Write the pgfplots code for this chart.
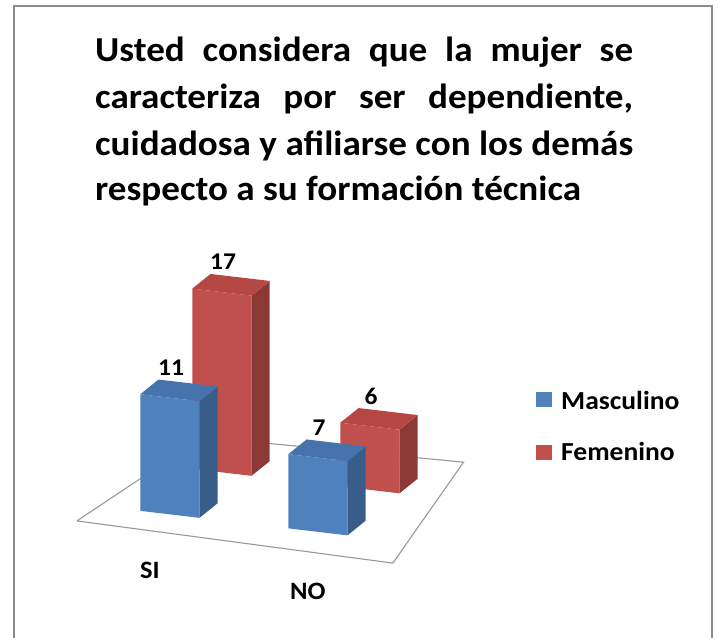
\documentclass[border=0pt]{standalone}
\usepackage{pgfplots}
\pgfplotsset{compat=1.18}
\usepackage{fontspec}
\setmainfont{Carlito}[FakeStretch=1.06]
\definecolor{blueF}{HTML}{4F81BD}
\definecolor{blueS}{HTML}{385D8A}
\definecolor{blueT}{HTML}{4773AD}
\definecolor{redF}{HTML}{C0504D}
\definecolor{redS}{HTML}{8C3836}
\definecolor{redT}{HTML}{B54845}
\definecolor{frameG}{HTML}{8C8C8C}
\begin{document}
\begin{tikzpicture}
\useasboundingbox (0pt,0pt) rectangle (719pt,637pt);
% outer frame
\draw[line width=1.4pt, frameG] (14pt,-3pt) -- (14pt,631pt) -- (712pt,631pt) -- (712pt,-3pt);
% title
\begin{scope}[every node/.style={anchor=base west, inner sep=0pt, font=\bfseries\fontsize{35}{40}\selectfont}]
\node at (95pt,575pt) {\makebox[538pt][s]{Usted considera que la mujer se}};
\node at (95pt,528pt) {\makebox[538pt][s]{caracteriza por ser dependiente,}};
\node at (95pt,481pt) {\makebox[538pt][s]{cuidadosa y afiliarse con los demás}};
\node at (95pt,436pt) {respecto a su formación técnica};
\end{scope}
\begin{axis}[
  at={(179pt,130pt)}, anchor=origin,
  x={(148pt,-17.5pt)}, y={(52pt,42pt)}, z={(0pt,10.6pt)},
  xmin=-0.5, xmax=1.7, ymin=-0.65, ymax=1.65, zmin=0, zmax=17,
  hide axis, clip=false,
  /pgf/number format/assume math mode=true,
]
% floor
\addplot3[draw=gray!80, line width=1.1pt, fill=white, mark=none]
  coordinates {(-0.50,-0.54,0) (1.67,-0.64,0) (1.35,1.63,0) (-0.37,1.51,0) (-0.50,-0.54,0)};
% Femenino SI = 17
\addplot3[fill=redF, draw=none, mark=none] coordinates {(-0.2,0.825,0) (0.2,0.825,0) (0.2,0.825,17) (-0.2,0.825,17)};
\addplot3[fill=redS, draw=none, mark=none] coordinates {(0.2,0.825,0) (0.2,1.175,0) (0.2,1.175,17) (0.2,0.825,17)};
\addplot3[fill=redT, draw=none, mark=none] coordinates {(-0.2,0.825,17) (0.2,0.825,17) (0.2,1.175,17) (-0.2,1.175,17)};
% Femenino NO = 6
\addplot3[fill=redF, draw=none, mark=none] coordinates {(0.8,0.825,0) (1.2,0.825,0) (1.2,0.825,6) (0.8,0.825,6)};
\addplot3[fill=redS, draw=none, mark=none] coordinates {(1.2,0.825,0) (1.2,1.175,0) (1.2,1.175,6) (1.2,0.825,6)};
\addplot3[fill=redT, draw=none, mark=none] coordinates {(0.8,0.825,6) (1.2,0.825,6) (1.2,1.175,6) (0.8,1.175,6)};
% Masculino SI = 11
\addplot3[fill=blueF, draw=none, mark=none] coordinates {(-0.2,-0.175,0) (0.2,-0.175,0) (0.2,-0.175,11) (-0.2,-0.175,11)};
\addplot3[fill=blueS, draw=none, mark=none] coordinates {(0.2,-0.175,0) (0.2,0.175,0) (0.2,0.175,11) (0.2,-0.175,11)};
\addplot3[fill=blueT, draw=none, mark=none] coordinates {(-0.2,-0.175,11) (0.2,-0.175,11) (0.2,0.175,11) (-0.2,0.175,11)};
% Masculino NO = 7
\addplot3[fill=blueF, draw=none, mark=none] coordinates {(0.8,-0.175,0) (1.2,-0.175,0) (1.2,-0.175,7) (0.8,-0.175,7)};
\addplot3[fill=blueS, draw=none, mark=none] coordinates {(1.2,-0.175,0) (1.2,0.175,0) (1.2,0.175,7) (1.2,-0.175,7)};
\addplot3[fill=blueT, draw=none, mark=none] coordinates {(0.8,-0.175,7) (1.2,-0.175,7) (1.2,0.175,7) (0.8,0.175,7)};
% value labels
\addplot3[only marks, mark=none, point meta=z,
  nodes near coords,
  every node near coord/.append style={anchor=center, xshift=-8pt, yshift=23pt,
    font=\bfseries\fontsize{24}{27}\selectfont}]
  coordinates {(0,0,11) (1,0,7) (0,1,17) (1,1,6)};
% category labels
\node[font=\bfseries\fontsize{25}{28}\selectfont, xshift=2pt, yshift=-38pt] at (axis cs:0,-0.6,0) {SI};
\node[font=\bfseries\fontsize{25}{28}\selectfont, xshift=12pt, yshift=-42pt] at (axis cs:1,-0.6,0) {NO};
\end{axis}
% legend
\fill[blueF] (536pt,229.7pt) rectangle (551.7pt,245.3pt);
\node[anchor=west, inner sep=0pt, font=\bfseries\fontsize{26}{29}\selectfont] at (561pt,237pt) {Masculino};
\fill[redF] (536pt,177pt) rectangle (551.7pt,192pt);
\node[anchor=west, inner sep=0pt, font=\bfseries\fontsize{26}{29}\selectfont] at (561pt,185.5pt) {Femenino};
\end{tikzpicture}
\end{document}
